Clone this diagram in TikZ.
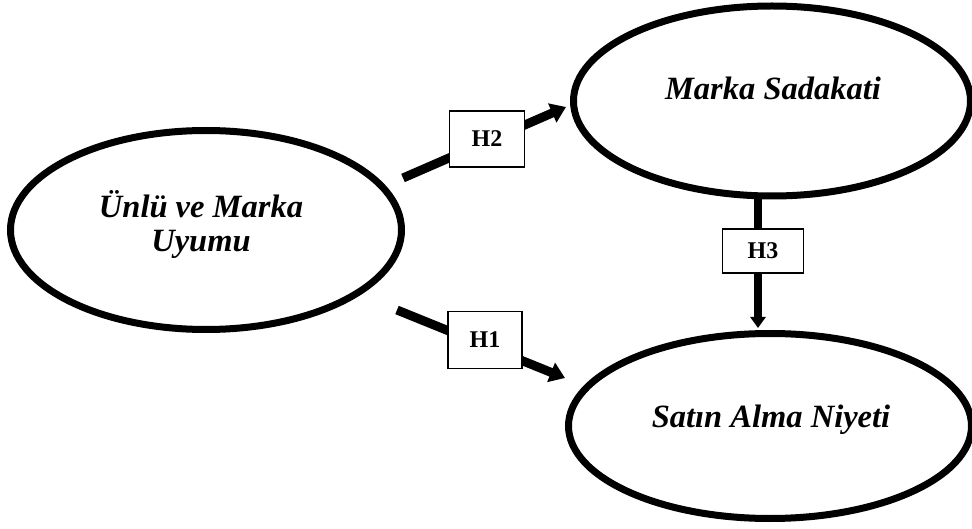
\documentclass[tikz,border=0pt]{standalone}
\usepackage{fontspec}
\setmainfont{Liberation Serif}
\usetikzlibrary{shapes.geometric,arrows.meta}
\tikzset{construct/.style={ellipse, draw=black, line width=7pt, inner sep=0pt, outer sep=0pt},
ctext/.style={font=\fontsize{32.5}{34}\selectfont\bfseries\itshape, align=center, inner sep=0pt},
hyp/.style={draw=black, fill=white, line width=1.8pt, inner sep=0pt,
  font=\fontsize{24}{28}\selectfont\bfseries},
%thick links between the constructs
link/.style={line width=9pt, -{Triangle[length=15pt,width=20pt]}},
vlink/.style={line width=7.5pt, -{Triangle[length=11pt,width=15pt]}}}

\begin{document}
\begin{tikzpicture}[x=1pt,y=-1pt]

\useasboundingbox (0,0) rectangle (972,529);

\node[construct, minimum width=391, minimum height=199] (uyum) at (206,230) {};
\node[construct, minimum width=397, minimum height=190] (sadakat) at (772,101) {};
\node[construct, minimum width=403, minimum height=185] (niyet) at (770,426) {};

\node[ctext] (uyumtxt) at (201,224) {Ünlü ve Marka\\Uyumu};
\node[ctext, anchor=base] (sadakattxt) at (773,100) {Marka Sadakati};
\node[ctext, anchor=base] (niyettxt) at (771,427) {Satın Alma Niyeti};

\coordinate (h2a) at (403,178);
\coordinate (h2b) at (566,107);
\coordinate (h1a) at (397,310);
\coordinate (h1b) at (565,378);
\coordinate (h3b) at (758,328);

\draw[link] (h2a) -- (h2b);
\draw[link] (h1a) -- (h1b);
\draw[vlink] (sadakat.south -| h3b) -- (h3b);

\node[hyp, minimum width=75, minimum height=56] (h2) at (487,139) {H2};
\node[hyp, minimum width=74, minimum height=57] (h1) at (485,340) {H1};
\node[hyp, minimum width=81, minimum height=44] (h3) at (763,251) {H3};

\end{tikzpicture}
\end{document}
